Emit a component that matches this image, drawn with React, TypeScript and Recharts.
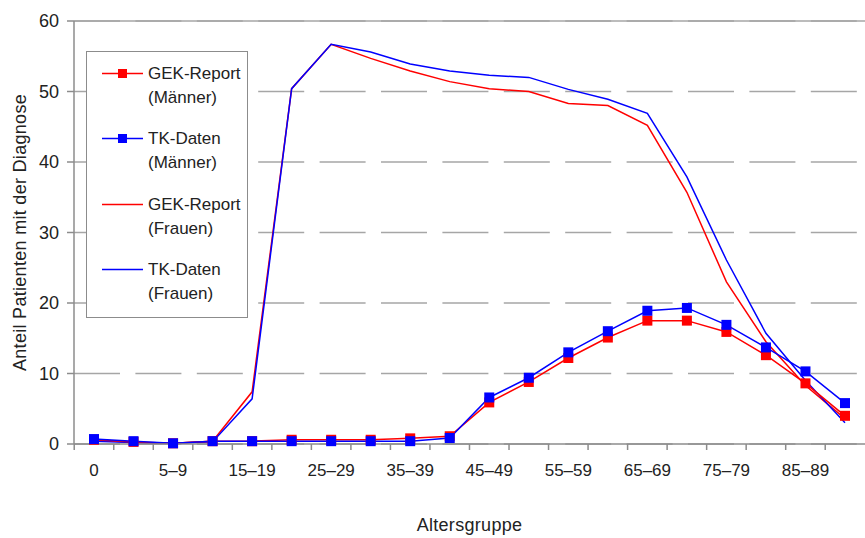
import {
  CartesianGrid,
  Label,
  Legend,
  Line,
  LineChart,
  ReferenceLine,
  XAxis,
  YAxis,
} from "recharts";

const ageGroups = [
  "0", "1–4", "5–9", "10–14", "15–19", "20–24", "25–29", "30–34", "35–39", "40–44",
  "45–49", "50–54", "55–59", "60–64", "65–69", "70–74", "75–79", "80–84", "85–89", "90+",
];

const gekMaenner = [0.6, 0.3, 0.1, 0.4, 0.4, 0.6, 0.6, 0.6, 0.8, 1.1, 5.9, 8.8, 12.2, 15.1, 17.5, 17.5, 15.9, 12.6, 8.6, 4.0];
const tkMaenner = [0.7, 0.4, 0.1, 0.4, 0.4, 0.4, 0.4, 0.4, 0.4, 0.85, 6.6, 9.4, 13.0, 16.0, 18.9, 19.3, 16.9, 13.7, 10.3, 5.8];
const gekFrauen = [0.6, 0.2, 0.1, 0.4, 7.4, 50.4, 56.7, 54.7, 52.9, 51.4, 50.4, 50.0, 48.3, 48.0, 45.2, 35.7, 23.0, 14.5, 8.3, 3.6];
const tkFrauen = [0.4, 0.2, 0.1, 0.3, 6.4, 50.4, 56.7, 55.6, 53.9, 52.9, 52.3, 52.0, 50.3, 48.9, 46.9, 37.9, 26.1, 15.7, 9.0, 3.0];

const yTicks = [0, 10, 20, 30, 40, 50, 60];

const data = ageGroups.map((group, i) => ({
  group,
  gekM: gekMaenner[i],
  tkM: tkMaenner[i],
  gekF: gekFrauen[i],
  tkF: tkFrauen[i],
}));

const RED = "#ff0000";
const BLUE = "#0000ff";
const AXIS = "#8c8c8c";
const FONT = "'Liberation Sans', Arial, sans-serif";

const legendItems = [
  { label: "GEK-Report", sub: "(Männer)", color: RED, marker: true },
  { label: "TK-Daten", sub: "(Männer)", color: BLUE, marker: true },
  { label: "GEK-Report", sub: "(Frauen)", color: RED, marker: false },
  { label: "TK-Daten", sub: "(Frauen)", color: BLUE, marker: false },
];

const squareDot = (color: string) => (props: any) => {
  const { cx, cy, index } = props;
  if (cx == null || cy == null) return <g key={index} />;
  return <rect key={index} x={cx - 5} y={cy - 5} width={10} height={10} fill={color} />;
};

// tick marks sit between categories, labels only on every second group
const AgeTick = (props: any) => {
  const { x, y, payload, index, width } = props;
  const step = (width || 791) / ageGroups.length;
  const axisY = y - 8;
  return (
    <g>
      <line x1={x - step / 2} x2={x - step / 2} y1={axisY} y2={axisY + 6} stroke={AXIS} strokeWidth={1.5} />
      {index % 2 === 0 && (
        <text x={x} y={axisY + 32} textAnchor="middle" fontSize={17} fontFamily={FONT} fill="#222">
          {payload.value}
        </text>
      )}
    </g>
  );
};

const renderLegend = () => (
  <div
    style={{
      width: 162,
      height: 267,
      border: `1px solid ${AXIS}`,
      background: "#fff",
      fontFamily: FONT,
      fontSize: 17,
      color: "#222",
      boxSizing: "border-box",
      paddingTop: 10,
    }}
  >
    {legendItems.map((item, i) => (
      <div key={i} style={{ display: "flex", height: 65.3, lineHeight: "24px" }}>
        <svg width={61} height={24} style={{ flex: "none" }}>
          <line x1={15} x2={56} y1={11.5} y2={11.5} stroke={item.color} strokeWidth={1.5} />
          {item.marker && <rect x={31} y={7} width={9} height={9} fill={item.color} />}
        </svg>
        <div>
          <div>{item.label}</div>
          <div>{item.sub}</div>
        </div>
      </div>
    ))}
  </div>
);

export default function App() {
  return (
    <div style={{ position: "absolute", left: 0, top: 0, background: "#fff" }}>
      <LineChart
        width={865}
        height={538}
        data={data}
        margin={{ top: 21, right: 0, left: 0, bottom: 0 }}
      >
        <CartesianGrid vertical={false} stroke="#a6a6a6" strokeWidth={1.5} strokeDasharray="46 15.4" />
        <ReferenceLine y={60} stroke="#a6a6a6" strokeWidth={1.5} />
        <XAxis
          dataKey="group"
          interval={0}
          height={94}
          padding={{ left: 20, right: 20 }}
          tickLine={false}
          tick={<AgeTick />}
          stroke={AXIS}
          strokeWidth={1.5}
        >
          <Label
            value="Altersgruppe"
            position="insideBottom"
            offset={7}
            style={{ fontSize: 18, letterSpacing: 0.3, fontFamily: FONT, fill: "#222" }}
          />
        </XAxis>
        <YAxis
          width={74}
          domain={[0, 60]}
          ticks={yTicks}
          tickSize={7}
          tickMargin={8}
          stroke={AXIS}
          strokeWidth={1.5}
          tick={{ fontSize: 18, fontFamily: FONT, fill: "#222" }}
        >
          <Label
            value="Anteil Patienten mit der Diagnose"
            angle={-90}
            position="insideLeft"
            offset={20}
            style={{ textAnchor: "middle", fontSize: 18, letterSpacing: 0.3, fontFamily: FONT, fill: "#222" }}
          />
        </YAxis>
        <Legend
          layout="vertical"
          align="center"
          verticalAlign="middle"
          content={renderLegend}
          wrapperStyle={{ left: 86, top: 51, width: 162, height: 267 }}
        />
        <Line dataKey="gekF" stroke={RED} strokeWidth={1.5} dot={false} isAnimationActive={false} />
        <Line dataKey="tkF" stroke={BLUE} strokeWidth={1.5} dot={false} isAnimationActive={false} />
        <Line dataKey="gekM" stroke={RED} strokeWidth={1.5} dot={squareDot(RED)} isAnimationActive={false} />
        <Line dataKey="tkM" stroke={BLUE} strokeWidth={1.5} dot={squareDot(BLUE)} isAnimationActive={false} />
      </LineChart>
    </div>
  );
}
